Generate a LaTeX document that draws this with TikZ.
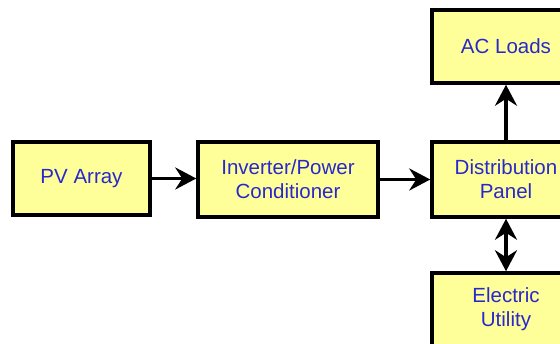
\documentclass[tikz,border=0pt]{standalone}
\usepackage{fontspec}
\setmainfont{Liberation Sans}
\usetikzlibrary{arrows.meta}

\definecolor{boxfill}{RGB}{255,255,153}
\definecolor{boxtext}{RGB}{40,40,205}

\begin{document}
\begin{tikzpicture}[x=1pt,y=-1pt,
    block/.style={draw=black, line width=3.5pt, fill=boxfill, inner sep=0pt,
        text=boxtext, align=center, font=\fontsize{20.5}{24}\selectfont},
    flow/.style={line width=3.5pt, -{Stealth[length=21pt,width=22pt,inset=7pt]}},
    biflow/.style={line width=3.5pt, {Stealth[length=21pt,width=22pt,inset=7pt]}-{Stealth[length=21pt,width=22pt,inset=7pt]}}]
    \useasboundingbox (0,0) rectangle (560,344);
    % the chain of blocks
    \node [block, minimum width=137pt, minimum height=73pt] (pv) at (81.5,178.5) {PV Array};
    \node [block, minimum width=180pt, minimum height=75pt] (inv) at (288,179.5) {Inverter/Power\\Conditioner};
    \node [block, minimum width=148pt, minimum height=75pt] (dist) at (506,179.5) {Distribution\\Panel};
    \node [block, minimum width=148pt, minimum height=73pt] (ac) at (506,46.5) {AC Loads};
    \node [block, minimum width=148pt, minimum height=73pt] (util) at (506,309.5) {Electric\\Utility};
    % power flow
    \draw [flow] (pv.east) -- (pv.east -| inv.west);
    \draw [flow] (inv.east) -- (inv.east -| dist.west);
    \draw [flow] (dist.north) -- (ac.south);
    \draw [biflow] (dist.south) -- (util.north);
\end{tikzpicture}
\end{document}
